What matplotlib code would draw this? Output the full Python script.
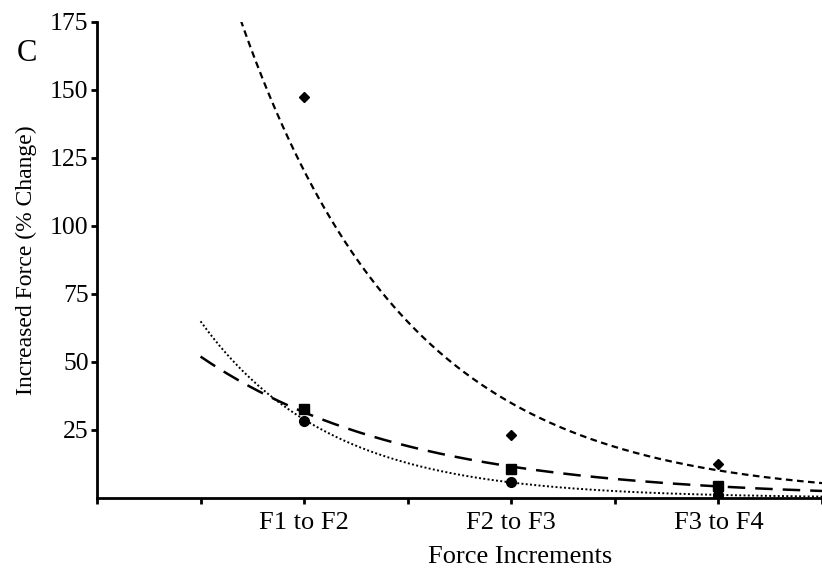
import numpy as np
import matplotlib.pyplot as plt

# data
categories = ['F1 to F2', 'F2 to F3', 'F3 to F4']
diamonds = [147.4, 23.2, 12.4]
squares = [32.7, 10.7, 4.4]
circles = [28.3, 5.9, 1.1]
ytick_vals = [25, 50, 75, 100, 125, 150, 175]

plt.rcParams['font.family'] = ['Liberation Serif', 'DejaVu Serif']

fig = plt.figure(figsize=(8.22, 5.75), dpi=100)
ax = fig.add_axes([0.118, 0.134, 0.882, 0.828])

x = np.arange(1, len(categories) + 1)


# exponential trendline like excel (fit ln y vs x), forecast half a step both ways
def trend(vals):
    b, a = np.polyfit(x, np.log(vals), 1)
    xx = np.linspace(0.5, 3.5, 300)
    return xx, np.exp(a + b * xx)


xd, yd = trend(diamonds)
xs, ys = trend(squares)
xc, yc = trend(circles)
ax.plot(xd, yd, color='black', lw=1.6, dashes=(3, 2))
ax.plot(xs, ys, color='black', lw=1.8, dashes=(7, 4))
ax.plot(xc, yc, color='black', lw=1.4, dashes=(1, 1.2))

ax.plot(x, diamonds, 'D', color='black', ms=5.5, ls='none')
ax.plot(x, squares, 's', color='black', ms=7, ls='none')
ax.plot(x, circles, 'o', color='black', ms=7, ls='none')

ax.set_xlim(0, 3.5)
ax.set_ylim(0, 175)
ax.set_xticks(np.arange(0, 3.51, 0.5))
ax.set_xticklabels(['', '', categories[0], '', categories[1], '', categories[2], ''])
ax.set_yticks(ytick_vals)
ax.tick_params(axis='both', direction='out', length=4, width=2, colors='black')
ax.tick_params(axis='y', labelsize=18.5, pad=2)
ax.tick_params(axis='x', labelsize=19, pad=6)

for s in ['top', 'right']:
    ax.spines[s].set_visible(False)
for s in ['left', 'bottom']:
    ax.spines[s].set_linewidth(2)

ax.set_ylabel('Increased Force (% Change)', fontsize=17)
ax.yaxis.set_label_coords(-0.083, 0.5)
ax.set_xlabel('Force Increments', fontsize=19)
ax.xaxis.set_label_coords(0.583, -0.124)
ax.xaxis.label.set_va('center')
fig.text(0.033, 0.907, 'C', fontsize=22, ha='center', va='center')

fig.savefig('out.png', dpi=100)
